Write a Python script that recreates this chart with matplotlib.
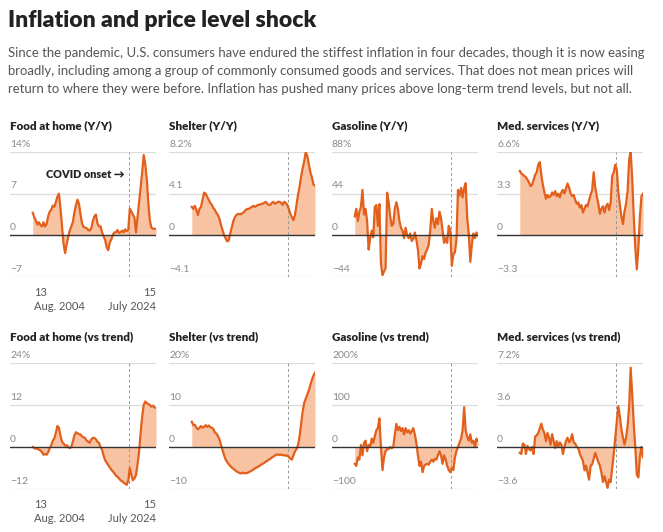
import numpy as np
import matplotlib
matplotlib.use("Agg")
import matplotlib.pyplot as plt

# ------------------------------------------------------------
# DATA (quarterly readings, Aug. 2004 -> July 2024)
# ------------------------------------------------------------
start_year = 2004.58
end_year = 2024.5
covid_year = 2020.17

food_yy = [3.8, 3.0, 2.5, 1.8, 2.2, 1.7, 1.5, 2.2, 1.5, 1.9, 3.2, 4.0, 4.3, 5.0, 4.8, 5.6,
           6.5, 7.0, 4.5, 1.5, -1.5, -3.0, -1.5, -0.3, 0.8, 1.5, 2.2, 3.8, 5.0, 6.0, 5.3, 3.5,
           2.0, 1.4, 1.3, 1.2, 0.9, 0.8, 1.2, 2.4, 3.2, 3.5, 2.0, 1.5, 1.5, 0.5, -0.2, -0.8,
           -2.0, -2.5, -1.2, -0.7, 0.1, 0.5, 0.5, 0.9, 0.4, 0.5, 0.8, 0.5, 1.0, 0.7, 0.9, 4.5,
           4.0, 3.5, 3.0, 0.5, 3.0, 5.5, 8.0, 10.5, 13.5, 12.0, 9.5, 5.5, 2.5, 1.3, 1.1, 1.1, 1.1]

shelter_yy = [2.8, 2.6, 2.9, 2.5, 2.0, 2.6, 2.8, 3.5, 4.2, 4.1, 3.8, 3.5, 3.2, 3.0, 2.7, 2.5,
              2.2, 2.0, 1.6, 1.0, 0.5, 0.0, -0.3, -0.6, -0.5, 0.2, 0.8, 1.4, 1.8, 2.0, 2.1, 2.1,
              2.1, 2.2, 2.3, 2.5, 2.6, 2.6, 2.7, 2.8, 2.9, 2.8, 2.9, 3.0, 3.0, 3.1, 3.1, 3.2,
              3.3, 3.1, 3.0, 3.0, 3.2, 3.3, 3.1, 3.2, 3.3, 3.3, 3.2, 3.0, 3.3, 3.2, 3.0, 2.6,
              2.1, 1.8, 1.5, 2.0, 3.0, 4.0, 4.8, 5.8, 6.6, 7.3, 8.2, 7.8, 7.0, 6.2, 5.7, 5.0, 4.9]

gas_yy = [20, 28, 15, 25, 30, 48, 22, 28, 15, -15, -3, 5, -2, 30, 32, 10,
          33, -30, -42, -38, -35, 45, 35, 20, 10, 12, 28, 35, 28, 15, 8, 5,
          -3, 8, 0, -3, 2, -6, -4, 3, -5, -15, -35, -30, -22, -25, -18, -15,
          -10, 5, 28, 15, 8, 18, 12, 25, 18, 5, -8, -3, -8, 10, 5, -32,
          -20, -18, -5, 48, 42, 50, 40, 50, 55, 18, 2, -28, -10, 2, -3, 3, 0]

med_yy = [5.1, 4.9, 4.8, 4.7, 4.6, 4.4, 4.2, 3.9, 4.0, 4.4, 4.8, 5.0, 5.6, 5.8, 4.8, 4.0,
          3.4, 2.9, 3.2, 3.0, 3.1, 3.4, 3.2, 3.5, 3.1, 3.3, 3.0, 3.4, 3.6, 3.3, 3.7, 4.1,
          3.8, 3.3, 3.1, 3.2, 2.8, 2.5, 2.6, 2.2, 2.4, 1.8, 2.1, 2.4, 2.3, 2.8, 3.2, 3.6,
          5.0, 3.8, 3.1, 2.5, 1.7, 2.1, 2.3, 1.8, 2.3, 2.5, 2.0, 2.6, 4.7, 5.0, 5.6, 5.2,
          3.4, 2.4, 1.5, 0.9, 1.9, 2.5, 3.5, 6.0, 6.6, 4.5, 1.5, -1.0, -2.7, -1.0, 1.5, 3.1, 3.3]

food_tr = [0.0, -0.3, -0.5, -0.4, -0.8, -1.0, -1.5, -2.2, -2.0, -2.2, -1.5, -0.3, 0.5, 1.8, 2.5, 4.0,
           6.0, 5.5, 3.2, 1.5, 1.0, 0.4, 0.5, 0.0, -0.3, 0.0, 1.5, 3.3, 4.2, 4.0, 3.6, 3.6,
           3.0, 2.8, 2.5, 1.8, 1.5, 1.2, 2.2, 2.6, 2.6, 2.2, 1.5, 1.2, 0.0, -0.8, -2.5, -3.8,
           -4.5, -5.2, -5.8, -6.5, -7.0, -7.5, -8.2, -8.5, -9.0, -9.5, -9.8, -10.2, -10.5, -10.8, -9.5, -6.0,
           -8.0, -9.5, -9.0, -8.0, -5.0, -1.5, 4.0, 8.5, 12.0, 13.0, 12.5, 12.3, 12.0, 11.5, 11.8, 11.3, 11.2]

shelter_tr = [6.0, 5.2, 5.3, 4.6, 4.2, 4.6, 5.0, 4.6, 4.8, 5.2, 4.8, 5.1, 4.7, 4.6, 4.3, 3.5,
              3.2, 2.6, 1.8, 0.5, -0.8, -2.0, -3.0, -3.6, -4.1, -4.5, -4.9, -5.2, -5.5, -5.8, -6.0, -6.2,
              -6.3, -6.1, -6.3, -6.2, -6.2, -6.0, -5.8, -5.6, -5.4, -5.1, -4.9, -4.7, -4.5, -4.2, -4.0, -3.8,
              -3.5, -3.3, -3.0, -2.8, -2.5, -2.3, -2.0, -1.8, -1.8, -1.9, -1.8, -2.0, -1.9, -2.1, -2.0, -2.4,
              -2.8, -3.0, -2.0, -1.0, -0.5, 0.5, 2.5, 5.5, 8.5, 10.5, 11.5, 12.5, 13.5, 14.8, 16.0, 17.0, 17.7]

gas_tr = [-40, -45, -25, -30, 5, -20, 10, 15, -10, 5, 0, 20, 10, 25, 40, 45,
          68, 0, -55, -25, -10, -5, -5, 0, -3, 0, 30, 55, 40, 48, 38, 45,
          30, 45, 35, 40, 32, 38, 45, 30, 10, -20, -45, -35, -60, -45, -42, -40,
          -42, -35, -30, -35, -28, -30, -20, -10, -20, -40, -20, -30, -45, -55, -60, -50,
          -55, -25, -10, 0, 10, 20, 40, 95, 40, 25, 15, 30, 10, 15, 0, 20, 15]

med_tr = [-0.5, -0.6, 0.3, 0.2, -0.6, 0.1, -0.2, -0.3, 0.0, -0.6, 0.9, 1.0, 1.2, 1.6, 2.0, 1.5,
          1.2, 0.5, 1.2, 0.8, 0.2, 1.1, 0.5, -0.1, 0.5, 0.0, 0.4, 0.2, -0.6, 0.0, 0.5, 0.8,
          0.4, 0.6, 1.1, 0.4, 0.3, 0.0, -0.1, -0.6, -0.9, -1.2, -2.0, -1.6, -2.2, -2.8, -1.6, -1.5,
          -1.0, -0.5, -0.9, -1.3, -1.6, -2.2, -3.0, -2.5, -3.0, -3.5, -2.8, -3.0, -1.8, -0.6, 0.8, 2.2,
          3.5, 2.6, 1.5, 0.8, 0.2, 0.8, 1.8, 3.5, 6.8, 4.5, 2.0, 0.0, -2.4, -2.6, -0.8, 0.0, -0.9]

panel_titles = ["Food at home (Y/Y)", "Shelter (Y/Y)", "Gasoline (Y/Y)", "Med. services (Y/Y)",
                "Food at home (vs trend)", "Shelter (vs trend)", "Gasoline (vs trend)", "Med. services (vs trend)"]
panel_series = [food_yy, shelter_yy, gas_yy, med_yy, food_tr, shelter_tr, gas_tr, med_tr]
panel_ticks = [[-7, 0, 7, 14], [-4.1, 0, 4.1, 8.2], [-44, 0, 44, 88], [-3.3, 0, 3.3, 6.6],
               [-12, 0, 12, 24], [-10, 0, 10, 20], [-100, 0, 100, 200], [-3.6, 0, 3.6, 7.2]]
panel_ticklabels = [["\u22127", "0", "7", "14%"], ["\u22124.1", "0", "4.1", "8.2%"],
                    ["\u221244", "0", "44", "88%"], ["\u22123.3", "0", "3.3", "6.6%"],
                    ["\u221212", "0", "12", "24%"], ["\u221210", "0", "10", "20%"],
                    ["\u2212100", "0", "100", "200%"], ["\u22123.6", "0", "3.6", "7.2%"]]
x_first = ["13", "Aug. 2004"]
x_last = ["15", "July 2024"]

title = "Inflation and price level shock"
subtitle = ["Since the pandemic, U.S. consumers have endured the stiffest inflation in four decades, though it is now easing",
            "broadly, including among a group of commonly consumed goods and services. That does not mean prices will",
            "return to where they were before. Inflation has pushed many prices above long-term trend levels, but not all."]

# ------------------------------------------------------------
# STYLE
# ------------------------------------------------------------
LINE = "#e2601c"
FILL = "#f7c3a3"
GRID = "#dcdcdc"
TICK = "#8a8a8a"
W, H = 663, 532
plt.rcParams["font.family"] = ["Lato", "DejaVu Sans"]


def fx(px):
    return px / W


def fy(py):
    return 1 - py / H


# ------------------------------------------------------------
# PANEL
# ------------------------------------------------------------
def draw_panel(ax, values, ticks, labels, title_txt, first_col, covid_note):
    x = np.linspace(start_year, end_year, len(values))
    y = np.array(values)
    ax.set_xlim(2000.9, end_year)
    ax.set_ylim(ticks[0], ticks[-1])
    ax.axis("off")

    for t, lab in zip(ticks, labels):
        if t == 0:
            ax.axhline(t, color="#333333", lw=1.0, zorder=4)
        else:
            ax.axhline(t, color=GRID, lw=0.9, zorder=0)
        ax.annotate(lab, xy=(0, t), xycoords=("axes fraction", "data"),
                    xytext=(0, 2.5), textcoords="offset points",
                    ha="left", va="bottom", fontsize=7.5, color=TICK)

    ax.fill_between(x, y, 0, color=FILL, lw=0, zorder=1)
    ax.plot(x, y, color=LINE, lw=1.6, zorder=3, solid_joinstyle="round")
    ax.plot([covid_year, covid_year], [ticks[0], ticks[-1]], color="#9a9a9a",
            lw=0.7, ls=(0, (3, 2.5)), zorder=2)

    ax.annotate(title_txt, xy=(0, 1), xycoords="axes fraction",
                xytext=(0, 16.5), textcoords="offset points",
                ha="left", va="baseline", fontsize=8.4, fontweight="heavy", color="#222222")

    if covid_note:
        ax.annotate("COVID onset \u2192", xy=(covid_year, 10.3), xycoords="data",
                    xytext=(-3, 0), textcoords="offset points",
                    ha="right", va="center", fontsize=7.8, fontweight="heavy",
                    color="#222222")

    if first_col:
        for i, (a, b) in enumerate(zip(x_first, x_last)):
            off = -11 - i * 10
            ax.annotate(a, xy=(start_year, ticks[0]), xycoords="data",
                        xytext=(0.7, off), textcoords="offset points",
                        ha="left", va="center", fontsize=8, color="#555555")
            ax.annotate(b, xy=(end_year, ticks[0]), xycoords="data",
                        xytext=(0, off), textcoords="offset points",
                        ha="right", va="center", fontsize=8, color="#555555")


# ------------------------------------------------------------
# MAIN
# ------------------------------------------------------------
def main():
    fig = plt.figure(figsize=(W / 100, H / 100), dpi=100)
    fig.patch.set_facecolor("white")

    fig.text(fx(8), fy(27), title, fontsize=16.5, fontweight="heavy",
             color="#222222", ha="left", va="baseline")
    for i, line in enumerate(subtitle):
        fig.text(fx(8), fy(57 + i * 18), line, fontsize=9.45, color="#555555",
                 ha="left", va="baseline")

    lefts = [10, 169, 332, 497]
    width = 146
    rows = [(152, 277), (363, 489)]

    for i in range(8):
        r, c = divmod(i, 4)
        top, bot = rows[r]
        ax = fig.add_axes([fx(lefts[c]), fy(bot), fx(width), (bot - top) / H])
        draw_panel(ax, panel_series[i], panel_ticks[i], panel_ticklabels[i],
                   panel_titles[i], c == 0, i == 0)

    fig.savefig("out.png", dpi=100)


if __name__ == "__main__":
    main()
